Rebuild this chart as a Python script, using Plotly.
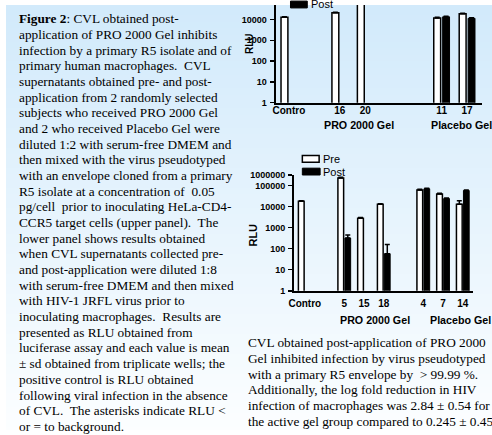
import base64, struct, zlib
import plotly.graph_objects as go

W, H = 492, 435

# ---------------- data ----------------
upper_slots = ["Contro", "gapA", "16", "20", "gapB", "gapC", "11", "17"]
upper_ids = ["Contro", "16", "20", "11", "17"]
upper_pre = [13000, 21000, 300000, 12000, 19000]
upper_pre_err = [700, 1200, 0, 800, 1000]
upper_post = [None, None, None, 13500, 11500]
upper_post_err = [0, 0, 0, 900, 600]
upper_below_bg = ["16", "20"]

lower_slots = ["Contro", "gapA", "5", "15", "18", "gapB", "4", "7", "14"]
lower_ids = ["Contro", "5", "15", "18", "4", "7", "14"]
lower_pre = [18000, 230000, 2800, 13000, 62000, 40000, 13000]
lower_pre_err = [1000, 15000, 200, 800, 4000, 3000, 6000]
lower_post = [None, 320, None, 58, 70000, 24000, 58000]
lower_post_err = [0, 130, 0, 100, 5000, 1500, 4000]
lower_below_bg = ["15"]

upper_y_ticks = [1, 10, 100, 1000, 10000]
upper_y_text = ["1", "10", "100", "1000", "10000"]
lower_y_ticks = [1, 10, 100, 1000, 10000, 100000, 10 ** 5.5]
lower_y_text = ["1", "10", "100", "1000", "10000", "100000", "1000000"]

group_labels = ["PRO 2000 Gel", "Placebo Gel"]

left_lines = [
    "<b>Figure 2</b>: CVL obtained post-",
    "application of PRO 2000 Gel inhibits",
    "infection by a primary R5 isolate and of",
    "primary human macrophages.\u00a0 CVL",
    "supernatants obtained pre- and post-",
    "application from 2 randomly selected",
    "subjects who received PRO 2000 Gel",
    "and 2 who received Placebo Gel were",
    "diluted 1:2 with serum-free DMEM and",
    "then mixed with the virus pseudotyped",
    "with an envelope cloned from a primary",
    "R5 isolate at a concentration of\u00a0 0.05",
    "pg/cell\u00a0 prior to inoculating HeLa-CD4-",
    "CCR5 target cells (upper panel).\u00a0 The",
    "lower panel shows results obtained",
    "when CVL supernatants collected pre-",
    "and post-application were diluted 1:8",
    "with serum-free DMEM and then mixed",
    "with HIV-1 JRFL virus prior to",
    "inoculating macrophages.\u00a0 Results are",
    "presented as RLU obtained from",
    "luciferase assay and each value is mean",
    "\u00b1 sd obtained from triplicate wells; the",
    "positive control is RLU obtained",
    "following viral infection in the absence",
    "of CVL.\u00a0 The asterisks indicate RLU <",
    "or = to background.",
]
right_lines = [
    "CVL obtained post-application of PRO 2000",
    "Gel inhibited infection by virus pseudotyped",
    "with a primary R5 envelope by\u00a0 > 99.99 %.",
    "Additionally, the log fold reduction in HIV",
    "infection of macrophages was 2.84 \u00b1 0.54 for",
    "the active gel group compared to 0.245 \u00b1 0.45",
]


def px(x):
    return x / W


def py(y):
    return 1 - y / H


def gradient_png(top, bottom, n=64):
    raw = b""
    for i in range(n):
        t = i / (n - 1)
        c = bytes(round(top[k] + (bottom[k] - top[k]) * t) for k in range(3))
        raw += b"\x00" + c * 2

    def chunk(typ, data):
        return (struct.pack(">I", len(data)) + typ + data
                + struct.pack(">I", zlib.crc32(typ + data) & 0xFFFFFFFF))

    ihdr = struct.pack(">IIBBBBB", 2, n, 8, 2, 0, 0, 0)
    png = (b"\x89PNG\r\n\x1a\n" + chunk(b"IHDR", ihdr)
           + chunk(b"IDAT", zlib.compress(raw)) + chunk(b"IEND", b""))
    return "data:image/png;base64," + base64.b64encode(png).decode()


SANS = "Liberation Sans"
SERIF = "Liberation Serif"

fig = go.Figure()


def add_bars(ids, pre, pre_err, post, post_err, xa, ya, width, off_pre, off_post):
    fig.add_trace(go.Bar(
        x=ids, y=pre, xaxis=xa, yaxis=ya, width=width, offset=off_pre,
        marker=dict(color="white", line=dict(color="black", width=1.5)),
        error_y=dict(type="data", symmetric=False, array=pre_err,
                     arrayminus=[0] * len(ids), color="black", thickness=1.5, width=2.5),
        showlegend=False, name="Pre", hoverinfo="skip"))
    fig.add_trace(go.Bar(
        x=ids, y=post, xaxis=xa, yaxis=ya, width=width, offset=off_post,
        marker=dict(color="black", line=dict(color="black", width=1)),
        error_y=dict(type="data", symmetric=False, array=post_err,
                     arrayminus=[0] * len(ids), color="black", thickness=1.5, width=2.5),
        showlegend=False, name="Post", hoverinfo="skip"))


add_bars(upper_ids, upper_pre, upper_pre_err, upper_post, upper_post_err,
         "x", "y", 0.27, -0.31, 0.04)
add_bars(lower_ids, lower_pre, lower_pre_err, lower_post, lower_post_err,
         "x2", "y2", 0.29, -0.325, 0.03)

annotations = []
# asterisks (RLU <= background)
for c in upper_below_bg:
    annotations.append(dict(x=c, y=0.55, xref="x", yref="y", text="*", showarrow=False,
                            xshift=6, font=dict(family=SANS, size=10, color="#555")))
for c in lower_below_bg:
    annotations.append(dict(x=c, y=0.55, xref="x2", yref="y2", text="*", showarrow=False,
                            xshift=4, font=dict(family=SANS, size=10, color="#555")))

# left caption
for i, t in enumerate(left_lines):
    annotations.append(dict(x=px(11), y=py(14 + i * 16.05), xref="paper", yref="paper",
                            xanchor="left", yanchor="middle", text=t, showarrow=False,
                            font=dict(family=SERIF, size=13.3, color="black")))
# right caption
for i, t in enumerate(right_lines):
    annotations.append(dict(x=px(243), y=py(345 + i * 16.35), xref="paper", yref="paper",
                            xanchor="left", yanchor="middle", text=t, showarrow=False,
                            font=dict(family=SERIF, size=13.3, color="black")))

# group labels
for (x, y, t) in [(357, 123, group_labels[0]), (461, 123, group_labels[1]),
                  (374, 322, group_labels[0]), (460, 322, group_labels[1])]:
    annotations.append(dict(x=px(x), y=py(y), xref="paper", yref="paper", text="<b>%s</b>" % t,
                            showarrow=False, xanchor="center", yanchor="middle",
                            font=dict(family=SANS, size=10.7, color="black")))

# y titles
for (x, y, s) in [(246, 40, 10), (250, 235, 11)]:
    annotations.append(dict(x=px(x), y=py(y), xref="paper", yref="paper", text="<b>RLU</b>",
                            textangle=-90, showarrow=False, xanchor="center", yanchor="middle",
                            font=dict(family=SANS, size=s, color="black")))

# legends (swatches + text)
shapes = []
shapes.append(dict(type="rect", xref="paper", yref="paper", x0=px(288), x1=px(305),
                   y0=py(3), y1=py(-4), fillcolor="black", line=dict(color="black", width=1)))
annotations.append(dict(x=px(307), y=py(-1), xref="paper", yref="paper", text="Post",
                        showarrow=False, xanchor="left", yanchor="middle",
                        font=dict(family=SANS, size=11, color="black")))
shapes.append(dict(type="rect", xref="paper", yref="paper", x0=px(300), x1=px(317),
                   y0=py(161), y1=py(154), fillcolor="white", line=dict(color="black", width=1.5)))
shapes.append(dict(type="rect", xref="paper", yref="paper", x0=px(300), x1=px(318),
                   y0=py(174), y1=py(167), fillcolor="black", line=dict(color="black", width=1)))
for (y, t) in [(157.5, "Pre"), (170.5, "Post")]:
    annotations.append(dict(x=px(319), y=py(y), xref="paper", yref="paper", text=t,
                            showarrow=False, xanchor="left", yanchor="middle",
                            font=dict(family=SANS, size=11, color="black")))

xcommon = dict(type="category", showline=True, linecolor="black", linewidth=2, ticks="",
               showgrid=False, zeroline=False, tickmode="array",
               tickfont=dict(family=SANS, size=10, color="black", weight="bold"))
ycommon = dict(type="log", showline=True, linecolor="black", linewidth=2, ticks="outside",
               ticklen=4, tickwidth=1.5, tickcolor="black", showgrid=False, zeroline=False,
               tickmode="array", ticklabelstandoff=1,
               tickfont=dict(family=SANS, size=9, color="black", weight="bold"))

fig.update_layout(
    width=W, height=H, margin=dict(l=0, r=0, t=0, b=0),
    paper_bgcolor="white", plot_bgcolor="rgba(0,0,0,0)",
    barmode="overlay", showlegend=False, hovermode=False,
    images=[dict(source=gradient_png((210, 234, 251), (252, 254, 255)), xref="paper", yref="paper",
                 x=0, y=1, sizex=1, sizey=1, xanchor="left", yanchor="top",
                 sizing="stretch", layer="below")],
    xaxis=dict(xcommon, domain=[px(273), px(482)], anchor="y",
               categoryorder="array", categoryarray=upper_slots, range=[-0.52, 7.59],
               tickvals=upper_ids, ticktext=upper_ids, ticklabelstandoff=-3),
    yaxis=dict(ycommon, domain=[py(100), 1], anchor="x", range=[0, 4.7],
               tickvals=upper_y_ticks, ticktext=upper_y_text),
    xaxis2=dict(xcommon, domain=[px(291.7), px(472.7)], anchor="y2",
                categoryorder="array", categoryarray=lower_slots, range=[-0.54, 8.51],
                tickvals=lower_ids, ticktext=lower_ids, ticklabelstandoff=2),
    yaxis2=dict(ycommon, domain=[py(292.5), py(174)], anchor="x2", range=[0, 5.5],
                tickvals=lower_y_ticks, ticktext=lower_y_text),
    annotations=annotations, shapes=shapes,
)

fig.write_html("out.html", config={"displayModeBar": False, "staticPlot": True},
               post_script="document.body.style.margin='0';document.body.style.padding='0';")
